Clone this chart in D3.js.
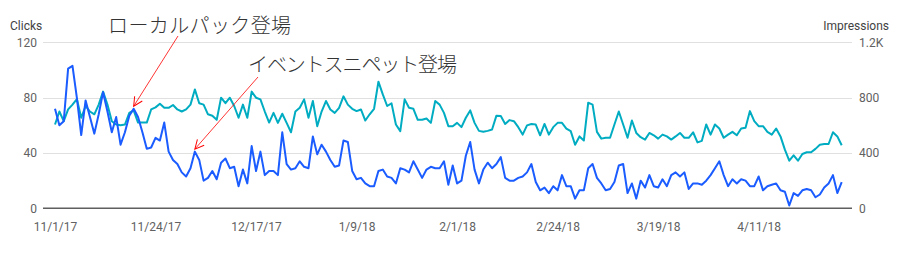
<!DOCTYPE html>
<html>
<head>
<meta charset="utf-8">
<script src="https://cdn.jsdelivr.net/npm/d3@7"></script>
<style>
  body { margin: 0; background: #fff; }
  svg { display: block; font-family: Roboto, "Noto Sans", sans-serif; }
</style>
</head>
<body>
<div id="chart"></div>
<script>
const WIDTH = 898
const HEIGHT = 258
const GRID = { LEFT: 43, RIGHT: 852, TOP: 42.4, BOTTOM: 208.3 }
const LINE_X = [55, 841.7]

// daily values, 11/1/17 .. 4/30/18
const startDay = "2017-11-01"
const clicks = [
	72, 60, 63, 101, 103, 80, 53, 78, 66, 54,
	68, 84, 70, 55, 66, 46, 55, 67, 72, 66,
	55, 43, 44, 51, 49, 62, 41, 35, 32, 26,
	23, 29, 41, 35, 20, 22, 27, 21, 33, 36,
	29, 30, 16, 28, 18, 45, 27, 41, 24, 27,
	27, 24, 55, 32, 28, 29, 34, 30, 29, 52,
	39, 46, 41, 35, 30, 31, 49, 48, 27, 21,
	22, 18, 16, 16, 27, 28, 23, 22, 18, 29,
	28, 26, 34, 28, 22, 28, 30, 29, 29, 34,
	17, 31, 18, 20, 38, 48, 28, 18, 28, 33,
	29, 32, 37, 22, 20, 20, 22, 23, 26, 32,
	19, 13, 15, 11, 16, 13, 24, 16, 16, 7,
	13, 13, 29, 32, 22, 18, 13, 14, 19, 31,
	32, 11, 18, 7, 20, 15, 24, 16, 15, 21,
	16, 24, 26, 23, 26, 14, 18, 18, 17, 20,
	24, 29, 34, 24, 16, 21, 18, 21, 20, 16,
	16, 23, 13, 16, 17, 18, 13, 12, 2, 11,
	9, 13, 14, 13, 8, 10, 15, 18, 24, 11, 19
]
const impressions = [
	606, 700, 630, 715, 750, 790, 655, 740, 700, 680,
	750, 844, 750, 630, 606, 600, 606, 690, 708, 620,
	620, 620, 715, 730, 756, 727, 727, 747, 715, 700,
	715, 750, 860, 760, 750, 680, 670, 640, 800, 760,
	800, 740, 655, 750, 655, 844, 800, 788, 700, 620,
	690, 618, 684, 618, 550, 700, 727, 788, 655, 776,
	594, 700, 776, 715, 690, 727, 810, 750, 720, 703,
	715, 635, 680, 720, 916, 824, 740, 759, 606, 558,
	788, 727, 720, 640, 640, 650, 618, 776, 750, 690,
	594, 594, 618, 587, 655, 708, 618, 560, 553, 560,
	570, 670, 667, 610, 638, 630, 587, 533, 600, 610,
	606, 528, 610, 533, 587, 618, 618, 577, 558, 460,
	520, 490, 764, 750, 553, 504, 510, 510, 606, 700,
	606, 510, 635, 545, 514, 497, 545, 528, 504, 533,
	520, 497, 520, 545, 510, 510, 550, 477, 488, 606,
	533, 606, 577, 510, 533, 553, 528, 577, 582, 703,
	630, 594, 594, 553, 533, 577, 520, 424, 344, 383,
	344, 393, 405, 405, 430, 460, 465, 465, 550, 520, 456
]

const xTickLabels = ["11/1/17", "11/24/17", "12/17/17", "1/9/18", "2/1/18", "2/24/18", "3/19/18", "4/11/18"]
const clickTicks = [0, 40, 80, 120]
const impressionTicks = [0, 400, 800, 1200]

const noteLabels = ["ローカルパック登場", "イベントスニペット登場"]
const noteDates = ["2017-11-19", "2017-12-03"]

const parseIso = d3.timeParse("%Y-%m-%d")
const parseTick = d3.timeParse("%-m/%-d/%y")
const start = parseIso(startDay)
const dates = clicks.map((d, i) => d3.timeDay.offset(start, i))

const svg = d3.select("#chart")
	.append("svg")
		.attr("width", WIDTH)
		.attr("height", HEIGHT)

const x = d3.scaleTime()
	.domain([dates[0], dates[dates.length - 1]])
	.range(LINE_X)
const yLeft = d3.scaleLinear()
	.domain([0, 120])
	.range([GRID.BOTTOM, GRID.TOP])
const yRight = d3.scaleLinear()
	.domain([0, 1200])
	.range([GRID.BOTTOM, GRID.TOP])

// gridlines
svg.append("g")
	.selectAll("line")
	.data(clickTicks.filter(t => t > 0))
	.enter().append("line")
		.attr("x1", GRID.LEFT)
		.attr("x2", GRID.RIGHT)
		.attr("y1", d => Math.round(yLeft(d)) + 0.5)
		.attr("y2", d => Math.round(yLeft(d)) + 0.5)
		.attr("stroke", "#e0e0e0")
		.attr("stroke-width", 1)

svg.append("line")
	.attr("x1", GRID.LEFT)
	.attr("x2", GRID.RIGHT)
	.attr("y1", yLeft(0))
	.attr("y2", yLeft(0))
	.attr("stroke", "#5f5f5f")
	.attr("stroke-width", 1.5)

// axes (labels only)
const leftAxis = d3.axisLeft(yLeft).tickValues(clickTicks).tickSize(0).tickPadding(0)
svg.append("g")
	.attr("transform", `translate(${GRID.LEFT - 6}, 0)`)
	.call(leftAxis)
	.call(g => g.select(".domain").remove())

const rightAxis = d3.axisRight(yRight).tickValues(impressionTicks).tickSize(0).tickPadding(0)
	.tickFormat(d => d >= 1000 ? d3.format(".1f")(d / 1000) + "K" : d)
svg.append("g")
	.attr("transform", `translate(${GRID.RIGHT + 7}, 0)`)
	.call(rightAxis)
	.call(g => g.select(".domain").remove())

const xAxis = d3.axisBottom(x)
	.tickValues(xTickLabels.map(parseTick))
	.tickFormat(d3.timeFormat("%-m/%-d/%y"))
	.tickSize(0).tickPadding(0)
svg.append("g")
	.attr("transform", `translate(0, ${GRID.BOTTOM + 14})`)
	.call(xAxis)
	.call(g => g.select(".domain").remove())

svg.selectAll(".tick text")
	.attr("font-family", "Roboto, sans-serif")
	.attr("font-size", 12)
	.attr("fill", "#616161")

svg.append("text")
	.attr("x", 10)
	.attr("y", 26)
	.attr("dy", "0.35em")
	.attr("font-size", 12)
	.attr("fill", "#424242")
	.text("Clicks")

svg.append("text")
	.attr("x", 889)
	.attr("y", 26)
	.attr("dy", "0.35em")
	.attr("text-anchor", "end")
	.attr("font-size", 12)
	.attr("fill", "#424242")
	.text("Impressions")

// lines
const impLine = d3.line()
	.x((d, i) => x(dates[i]))
	.y(d => yRight(d))
const clickLine = d3.line()
	.x((d, i) => x(dates[i]))
	.y(d => yLeft(d))

svg.append("path")
	.datum(impressions)
	.attr("fill", "none")
	.attr("stroke", "#00acc1")
	.attr("stroke-width", 2)
	.attr("stroke-linejoin", "round")
	.attr("d", impLine)

svg.append("path")
	.datum(clicks)
	.attr("fill", "none")
	.attr("stroke", "#1a5cff")
	.attr("stroke-width", 2)
	.attr("stroke-linejoin", "round")
	.attr("d", clickLine)

// annotations
svg.append("defs").append("marker")
	.attr("id", "head")
	.attr("viewBox", "-10 -6 12 12")
	.attr("refX", 0)
	.attr("refY", 0)
	.attr("markerWidth", 12)
	.attr("markerHeight", 12)
	.attr("markerUnits", "userSpaceOnUse")
	.attr("orient", "auto")
	.append("path")
		.attr("d", "M-9,-4.5L0,0L-9,4.5")
		.attr("fill", "none")
		.attr("stroke", "#ff0000")
		.attr("stroke-width", 1)

const notePos = [
	{ tx: 108, ty: 26, w: 183, ax: 178, ay: 36 },
	{ tx: 248, ty: 65, w: 209, ax: 258, ay: 77 }
]

noteLabels.forEach((label, i) => {
	const p = notePos[i]
	const day = d3.timeDay.count(start, parseIso(noteDates[i]))
	svg.append("text")
		.attr("x", p.tx)
		.attr("y", p.ty)
		.attr("dy", "0.35em")
		.attr("font-family", "'Noto Sans CJK JP', sans-serif")
		.attr("font-size", 20)
		.attr("font-weight", 300)
		.attr("fill", "#333")
		.attr("textLength", p.w)
		.attr("lengthAdjust", "spacing")
		.text(label)
	svg.append("line")
		.attr("x1", p.ax)
		.attr("y1", p.ay)
		.attr("x2", x(dates[day]))
		.attr("y2", yLeft(clicks[day]) - 2.5)
		.attr("stroke", "#ff0000")
		.attr("stroke-width", 0.8)
		.attr("marker-end", "url(#head)")
})
</script>
</body>
</html>
